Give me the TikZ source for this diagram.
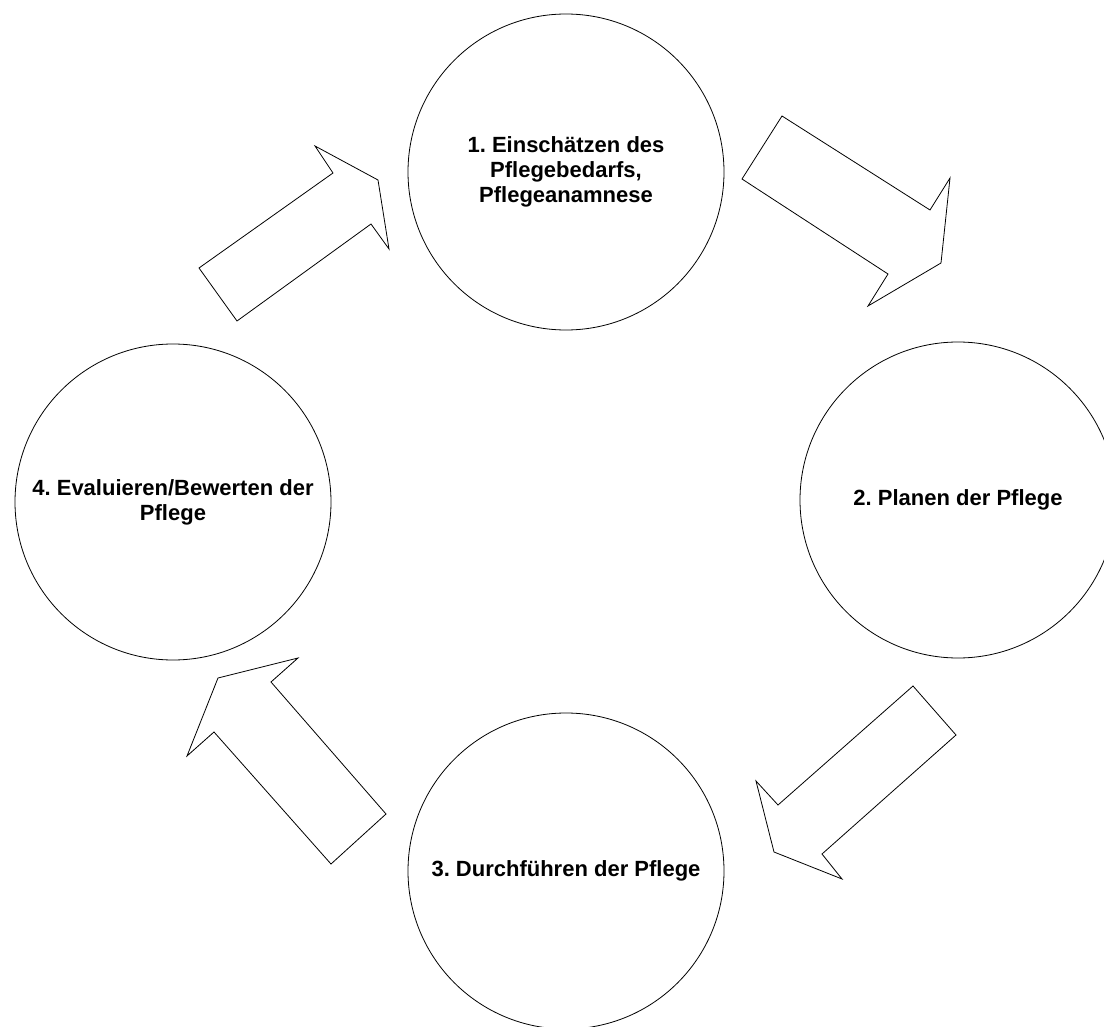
\documentclass[tikz,border=0pt]{standalone}
\usepackage{fontspec}
\setsansfont{Liberation Sans}
\frenchspacing

\begin{document}
\begin{tikzpicture}[
  x=0.75pt, y=-0.75pt,
  font=\sffamily\bfseries\fontsize{16.5}{18.75}\selectfont,
  phase/.style={
    circle, draw=black, line width=0.6pt, fill=white,
    minimum size=237pt, inner sep=0pt, align=center,
  },
  pfeil/.style={draw=black, line width=0.6pt, line join=miter, fill=white},
]
\useasboundingbox (0,0) rectangle (1104,1027);

% the four steps of the care process
\node[phase] at (566,172) (einschaetzen) {1. Einschätzen des\\Pflegebedarfs,\\Pflegeanamnese};
\node[phase] at (958,500) (planen)       {2. Planen der Pflege};
\node[phase] at (566,871) (durchfuehren) {3. Durchführen der Pflege};
\node[phase] at (173,502) (evaluieren)   {4. Evaluieren/Bewerten der\\Pflege};

% block arrows, clockwise
\draw[pfeil] (199,268) -- (333,173) -- (315,146) -- (378,180) -- (389,249) -- (371,224) -- (237,321) -- cycle;
\draw[pfeil] (782,116) -- (930,210) -- (950,178) -- (941,263) -- (868,306) -- (888,274) -- (742,179) -- cycle;
\draw[pfeil] (913,686) -- (956,735) -- (822,854) -- (842,879) -- (774,852) -- (756,781) -- (778,805) -- cycle;
\draw[pfeil] (386,814) -- (271,682) -- (298,658) -- (218,678) -- (187,756) -- (214,732) -- (331,864) -- cycle;

\end{tikzpicture}
\end{document}
